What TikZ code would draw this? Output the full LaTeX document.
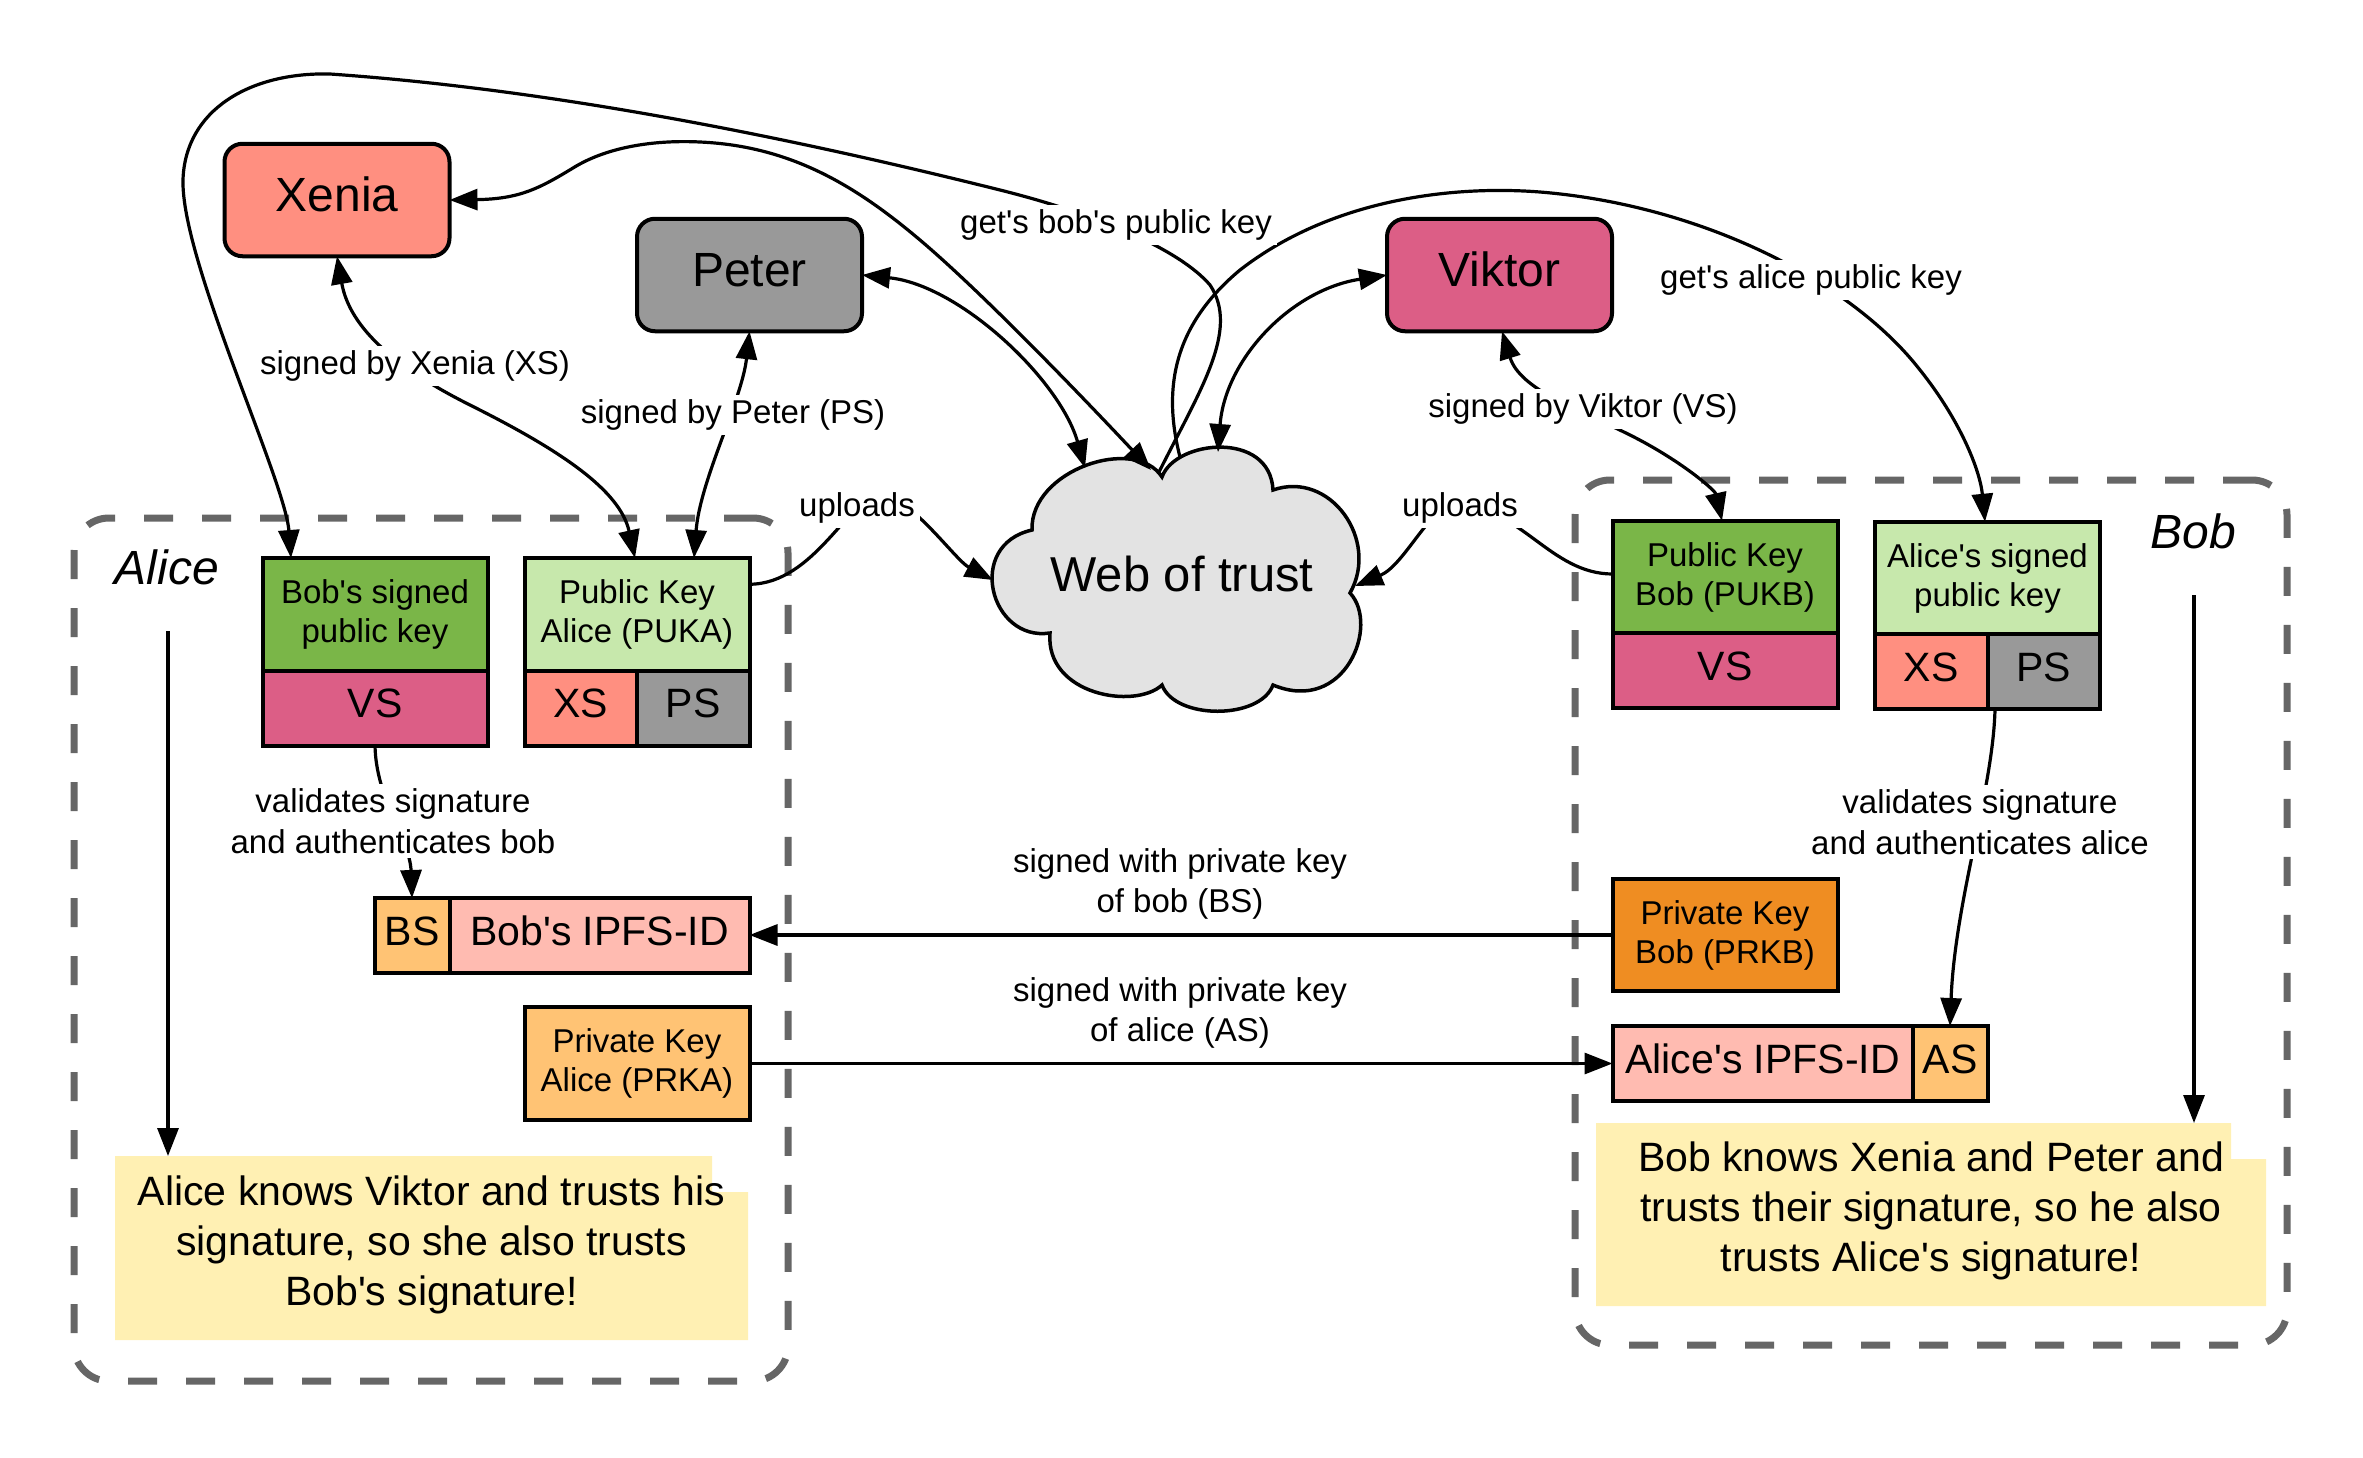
\documentclass[tikz,border=0pt]{standalone}
\usepackage{fontspec}
\setmainfont{Liberation Sans}[Ligatures=TeXOff]
\usetikzlibrary{arrows.meta}
\definecolor{cXenia}{HTML}{FF8F80}
\definecolor{cGray}{HTML}{999999}
\definecolor{cPink}{HTML}{DC5E86}
\definecolor{cGreen}{HTML}{7AB648}
\definecolor{cLGreen}{HTML}{C7E8AC}
\definecolor{cLPink}{HTML}{FFBBB1}
\definecolor{cLOrange}{HTML}{FFC374}
\definecolor{cOrange}{HTML}{EF8D22}
\definecolor{cNote}{HTML}{FFF0B3}
\definecolor{cCloud}{HTML}{E3E3E3}
\definecolor{cDash}{HTML}{666666}
\newcommand{\fsz}[2]{\fontsize{#1pt}{#2pt}\selectfont}
\tikzset{
  keybox/.style={draw, line width=4pt, inner sep=0pt, outer sep=0pt, align=center, font=\fsz{33}{39}},
  sbox/.style={draw, line width=4pt, inner sep=0pt, outer sep=0pt, font=\fsz{41}{48}, execute at begin node=\strut},
  namebox/.style={draw, line width=4pt, rounded corners=18pt, inner sep=0pt, outer sep=0pt, minimum width=225pt, minimum height=112.5pt, font=\fsz{48}{56}, execute at begin node=\strut},
  conn/.style={line width=3.2pt},
  lbl/.style={fill=white, inner sep=5pt, align=center, font=\fsz{33}{40.5}},
  cont/.style={draw=cDash, line width=7pt, dash pattern=on 29pt off 29pt, rounded corners=35pt, inner sep=0pt},
  notetxt/.style={align=center, inner sep=0pt, font=\fsz{41}{50}},
  cloudst/.style={draw, fill=cCloud, line width=3.5pt},
  bigw/.style={minimum width=225pt},
  halfw/.style={minimum width=112.5pt},
  tallh/.style={minimum height=112.5pt},
  shorth/.style={minimum height=75pt}
}
\begin{document}
\begin{tikzpicture}[x=1pt,y=-1pt,>={Triangle[length=28pt,width=21pt]}]
\useasboundingbox (0,0) rectangle (2363,1457);
\fill[white] (0,0) rectangle (2363,1457);

% containers
\node[cont, minimum width=714pt, minimum height=863pt] (alicebox) at (431,949.5) {};
\node[cont, minimum width=712pt, minimum height=865pt] (bobbox) at (1931,912.5) {};
\node[font=\fsz{48}{56}\itshape, inner sep=0pt] (alicelbl) at (167,567) {Alice};
\node[font=\fsz{48}{56}\itshape, inner sep=0pt] (boblbl) at (2193,531) {Bob};

% notes
\fill[cNote] (115,1156) -- (712,1156) -- (712,1192) -- (748,1192) -- (748,1340) -- (115,1340) -- cycle;
\node[notetxt] (anote) at (431.5,1245) {Alice knows Viktor and trusts his\\signature, so she also trusts\\Bob's signature!};
\fill[cNote] (1596,1123) -- (2231,1123) -- (2231,1159) -- (2266,1159) -- (2266,1306) -- (1596,1306) -- cycle;
\node[notetxt] (bnote) at (1931,1211) {Bob knows Xenia and Peter and\\trusts their signature, so he also\\trusts Alice's signature!};

% cloud
\draw[cloudst] (1050,633) .. controls (990,642) and (965,545) .. (1032,530)
  .. controls (1030,470) and (1135,435) .. (1162,477)
  .. controls (1175,440) and (1270,430) .. (1273,490)
  .. controls (1330,470) and (1380,540) .. (1350,593)
  .. controls (1380,625) and (1345,715) .. (1273,685)
  .. controls (1260,720) and (1175,720) .. (1162,685)
  .. controls (1135,710) and (1045,695) .. (1050,633) -- cycle;
\node[font=\fsz{49}{58}, inner sep=0pt] (web) at (1182,574) {Web of trust};
\coordinate (cXen) at (1151,470);
\coordinate (cPet) at (1085,468);
\coordinate (cVik) at (1218,452);
\coordinate (cBob) at (1158,474);
\coordinate (cAli) at (1180,457);
\coordinate (cUpL) at (993,580);
\coordinate (cUpR) at (1355,586);

% top people
\node[namebox, fill=cXenia] (xenia) at (337,200) {Xenia};
\node[namebox, fill=cGray] (peter) at (749.5,275) {Peter};
\node[namebox, fill=cPink] (viktor) at (1499.5,275) {Viktor};

% Alice boxes
\node[keybox, fill=cGreen, bigw, tallh] (bspk) at (375,614.25) {Bob's signed\\public key};
\node[sbox, fill=cPink, bigw, shorth] (bspkvs) at (375,708) {VS};
\node[keybox, fill=cLGreen, bigw, tallh] (puka) at (637,614.25) {Public Key\\Alice (PUKA)};
\node[sbox, fill=cXenia, halfw, shorth] (pukaxs) at (580.75,708) {XS};
\node[sbox, fill=cGray, halfw, shorth] (pukaps) at (693.25,708) {PS};
\node[sbox, fill=cLOrange, minimum width=75pt, shorth] (bsbs) at (412,935.5) {BS};
\node[sbox, fill=cLPink, minimum width=300pt, shorth] (bsid) at (599.5,935.5) {Bob's IPFS-ID};
\node[keybox, fill=cLOrange, bigw, tallh] (prka) at (637,1063.5) {Private Key\\Alice (PRKA)};

% Bob boxes
\node[keybox, fill=cGreen, bigw, tallh] (pukb) at (1725,577) {Public Key\\Bob (PUKB)};
\node[sbox, fill=cPink, bigw, shorth] (pukbvs) at (1725,670.75) {VS};
\node[keybox, fill=cLGreen, bigw, tallh] (aspk) at (1987.5,578) {Alice's signed\\public key};
\node[sbox, fill=cXenia, halfw, shorth] (aspkxs) at (1931.25,671.75) {XS};
\node[sbox, fill=cGray, halfw, shorth] (aspkps) at (2043.75,671.75) {PS};
\node[keybox, fill=cOrange, bigw, tallh] (prkb) at (1725,935) {Private Key\\Bob (PRKB)};
\node[sbox, fill=cLPink, minimum width=300pt, shorth] (asid) at (1762.5,1063.5) {Alice's IPFS-ID};
\node[sbox, fill=cLOrange, minimum width=75pt, shorth] (asas) at (1950,1063.5) {AS};

% free ends of vertical arrows
\coordinate (aStart) at (168,631);
\coordinate (aEnd) at (168,1156);
\coordinate (bStart) at (2194,595);
\coordinate (bEnd) at (2194,1123);

% connectors
\draw[conn,<->] (xenia.east) .. controls (520,199) and (540,188) .. (573,168)
  .. controls (610,145) and (660,140) .. (700,142)
  .. controls (790,146) and (855,185) .. (920,240)
  .. controls (985,295) and (1090,405) .. (cXen);
\draw[conn,<->] (peter.east) .. controls (960,285) and (1060,380) .. (cPet);
\draw[conn,<->] (viktor.west) .. controls (1290,290) and (1225,360) .. (cVik);
\draw[conn,->] (cBob) .. controls (1200,390) and (1240,330) .. (1210,285)
  .. controls (1180,250) and (1100,215) .. (1000,190)
  .. controls (800,140) and (560,90) .. (330,74)
  .. controls (250,72) and (185,110) .. (183,180)
  .. controls (181,260) and (285,480) .. ([xshift=-84pt]bspk.north);
\draw[conn,->] (cAli) .. controls (1160,380) and (1180,320) .. (1240,270)
  .. controls (1330,200) and (1450,185) .. (1540,192)
  .. controls (1700,205) and (1850,280) .. (1920,370)
  .. controls (1960,420) and (1980,470) .. ([xshift=-2.5pt]aspk.north);
\draw[conn,<->] (xenia.south) .. controls (350,330) and (400,370) .. (470,405)
  .. controls (560,450) and (620,490) .. ([xshift=-2pt]puka.north);
\draw[conn,<->] (peter.south) .. controls (742,400) and (700,480) .. ([xshift=57pt]puka.north);
\draw[conn,<->] ([xshift=2.5pt]viktor.south) .. controls (1520,390) and (1580,410) .. (1630,435)
  .. controls (1680,460) and (1715,490) .. ([xshift=-3pt]pukb.north);
\draw[conn,->] ([yshift=30pt]puka.east) .. controls (815,584) and (850,495) .. (880,495)
  .. controls (910,495) and (955,560) .. (cUpL);
\draw[conn,->] ([yshift=3pt]pukb.west) .. controls (1550,574) and (1520,505) .. (1455,505)
  .. controls (1430,505) and (1405,565) .. (cUpR);
\draw[conn,->] (bspkvs.south) .. controls (376,800) and (410,840) .. (bsbs.north);
\draw[conn,->] ([xshift=7.5pt]aspkxs.south east) .. controls (1993,790) and (1955,900) .. (asas.north);
\draw[conn,->] (prkb.west) -- (prkb.west -| bsid.east);
\draw[conn,->] (prka.east) -- (prka.east -| asid.west);
\draw[conn,->] (aStart) -- (aEnd);
\draw[conn,->] (bStart) -- (bEnd);

% labels
\node[lbl] (lxs) at (415,366) {signed by Xenia (XS)};
\node[lbl] (lps) at (733,415) {signed by Peter (PS)};
\node[lbl] (lvs) at (1583,409) {signed by Viktor (VS)};
\node[lbl] (lgb) at (1116,225) {get's bob's public key};
\node[lbl] (lga) at (1811,280) {get's alice public key};
\node[lbl] (lul) at (857,508) {uploads};
\node[lbl] (lur) at (1460,508) {uploads};
\node[lbl] (lva) at (393,821) {validates signature\\and authenticates bob};
\node[lbl] (lvb) at (1980,822) {validates signature\\and authenticates alice};
\node[lbl] (lsb) at (1180,884) {signed with private key\\of bob (BS)};
\node[lbl] (lsa) at (1180,1013) {signed with private key\\of alice (AS)};
\end{tikzpicture}
\end{document}
